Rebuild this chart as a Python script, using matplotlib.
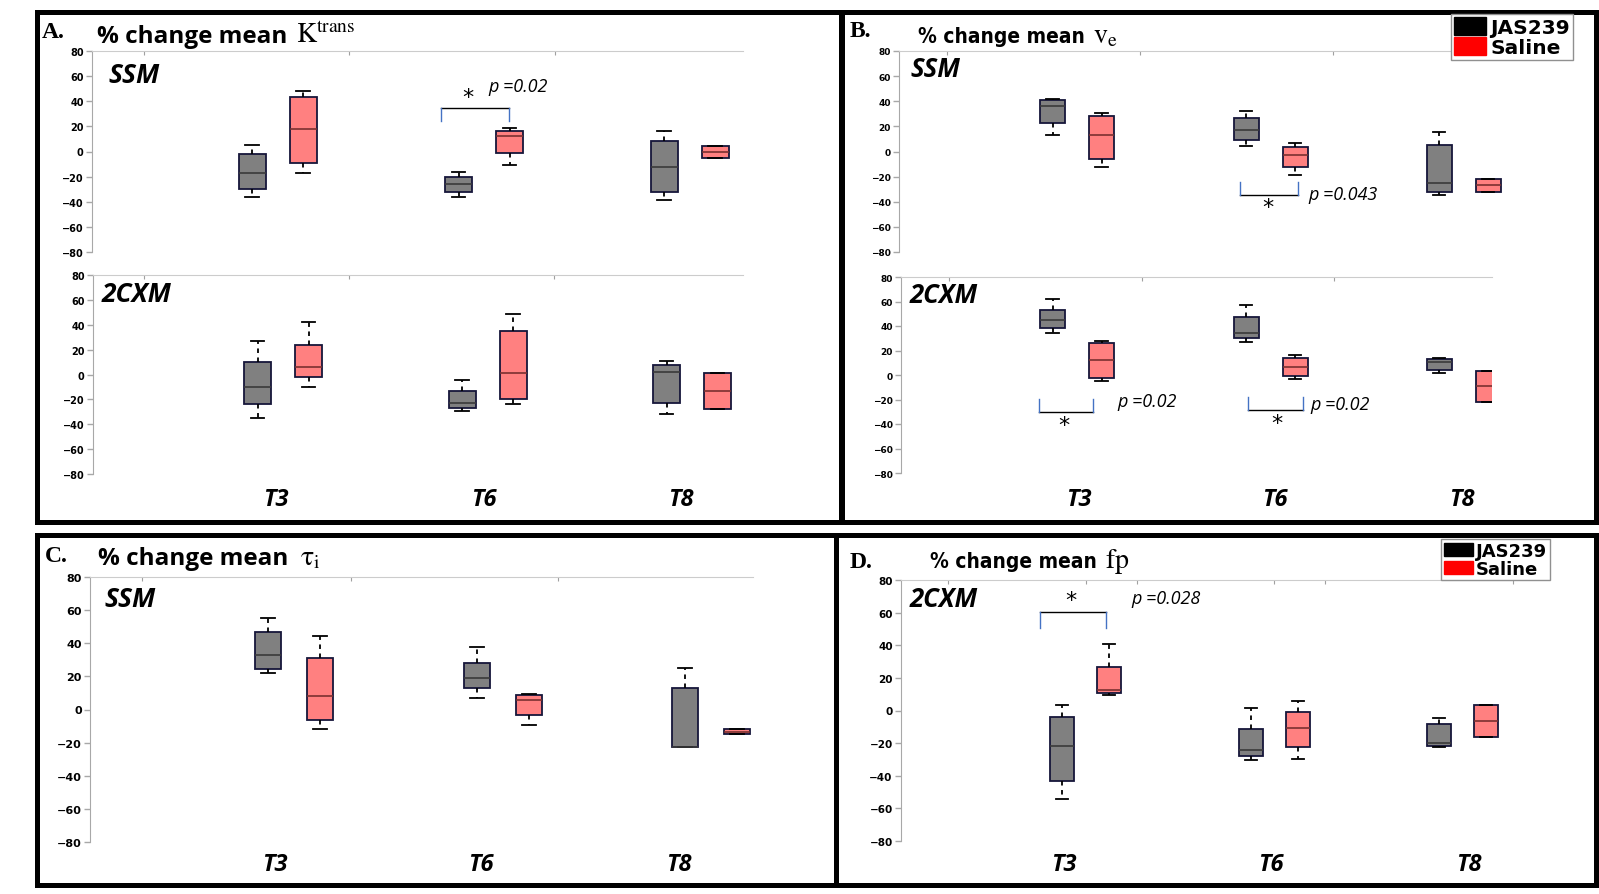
import matplotlib
matplotlib.use('Agg')
import matplotlib.pyplot as plt
from matplotlib.patches import Rectangle, Patch

plt.rcParams['mathtext.fontset'] = 'stix'

W, H = 1599, 895
groups = ['T3', 'T6', 'T8']

# box statistics: whisker low, q1, median, q3, whisker high
# panel A, SSM
a_ssm_jas = dict(lo=[-36, -36, -39], q1=[-30, -32, -32.5], med=[-17, -26, -12.5], q3=[-2, -20.5, 8.5], hi=[5, -16, 16])
a_ssm_sal = dict(lo=[-17, -11, -5.5], q1=[-9, -1, -5.5], med=[18, 12, -0.5], q3=[43, 16, 4], hi=[48, 19, 4])
# panel A, 2CXM
a_cxm_jas = dict(lo=[-35, -29.5, -32], q1=[-24, -27, -23], med=[-10, -23, 2], q3=[10, -13.5, 8], hi=[27, -4.5, 10.5])
a_cxm_sal = dict(lo=[-10, -23.5, -27.5], q1=[-2, -20, -27.5], med=[6, 1.5, -13], q3=[24, 35, 1], hi=[42.5, 49, 1])
# panel B, SSM
b_ssm_jas = dict(lo=[13, 4.5, -35], q1=[23, 9, -32.5], med=[36, 17, -25], q3=[41, 27, 5], hi=[41.5, 32, 15.5])
b_ssm_sal = dict(lo=[-12, -18.5, -32.5], q1=[-6, -12.5, -32.5], med=[13.5, -3, -26.5], q3=[28.5, 3.5, -22], hi=[30.5, 7, -22])
# panel B, 2CXM
b_cxm_jas = dict(lo=[34.5, 27, 1.5], q1=[38.5, 30, 4], med=[44.5, 34.5, 10.5], q3=[53, 47.5, 13], hi=[62, 57, 14])
b_cxm_sal = dict(lo=[-5, -3, -22], q1=[-2.5, -1, -22], med=[12.5, 6.5, -9], q3=[26.5, 14, 3.5], hi=[28, 16, 3.5])
# panel C, SSM
c_ssm_jas = dict(lo=[22, 7, -22.5], q1=[24.5, 13, -22.5], med=[33, 19, -22.5], q3=[47, 28, 13], hi=[55, 37.5, 25])
c_ssm_sal = dict(lo=[-12, -9.5, -15], q1=[-6.5, -3.5, -15], med=[8, 5.5, -13.5], q3=[31, 9, -11.5], hi=[44.5, 9.5, -11.5])
# panel D, 2CXM
d_cxm_jas = dict(lo=[-54, -30.5, -22.5], q1=[-43.5, -28, -22], med=[-22, -24, -20], q3=[-4, -11.5, -8.5], hi=[3.5, 1.5, -4.5])
d_cxm_sal = dict(lo=[9.5, -30, -16], q1=[11, -22.5, -16], med=[12.5, -11, -6.5], q3=[26.5, -0.7, 3.5], hi=[40.5, 6, 3.5])

legend_labels = ['JAS239', 'Saline']
p_texts = ['p =0.02', 'p =0.043', 'p =0.02', 'p =0.02', 'p =0.028']

GRAY = '#808080'
PINK = '#ff8080'
EDGE = '#16163a'

fig = plt.figure(figsize=(W / 100, H / 100), dpi=100)


def fx(px):
    return px / W


def fy(py):
    return 1 - py / H


def add_ax(x0, y0, x1, y1, top_ticks, lsize):
    # x data unit = figure pixel, y = % change
    ax = fig.add_axes([x0 / W, 1 - y1 / H, (x1 - x0) / W, (y1 - y0) / H])
    ax.patch.set_alpha(0)
    ax.set_xlim(x0, x1)
    ax.set_ylim(-80, 80)
    ax.set_yticks(range(-80, 81, 20))
    ax.spines['right'].set_visible(False)
    ax.spines['bottom'].set_visible(False)
    ax.spines['left'].set_color('#a8a8a8')
    ax.spines['top'].set_color('#cccccc')
    ax.tick_params(axis='y', direction='out', length=4, width=1, color='#a8a8a8',
                   labelsize=lsize, pad=2)
    for lab in ax.get_yticklabels():
        lab.set_fontweight('bold')
        lab.set_family('DejaVu Sans')
    ax.set_xticks(top_ticks)
    ax.tick_params(axis='x', top=True, bottom=False, direction='in', length=3,
                   color='#a0a0a0', labeltop=False, labelbottom=False)
    return ax


def draw_boxes(ax, centres, off, bw, jas, sal):
    for st, sign, face, medc in [(jas, -1, GRAY, '#3a3a3a'), (sal, 1, PINK, '#7a3030')]:
        stats = [dict(whislo=st['lo'][i], q1=st['q1'][i], med=st['med'][i],
                      q3=st['q3'][i], whishi=st['hi'][i]) for i in range(len(groups))]
        pos = [c + sign * off for c in centres]
        ax.bxp(stats, positions=pos, widths=bw, showfliers=False, patch_artist=True,
               manage_ticks=False, capwidths=bw * 0.5,
               boxprops=dict(facecolor=face, edgecolor=EDGE, linewidth=1.3),
               medianprops=dict(color=medc, linewidth=1.2),
               whiskerprops=dict(color='black', linewidth=1.3, linestyle=(0, (2.5, 2.5))),
               capprops=dict(color='black', linewidth=1.3))


def bracket(ax, x0, x1, ybar, yend, star, ptxt, pxy):
    ax.plot([x0, x1], [ybar, ybar], color='black', lw=1)
    ax.plot([x0, x0], [ybar, yend], color='#4472c4', lw=1)
    ax.plot([x1, x1], [ybar, yend], color='#4472c4', lw=1)
    ax.text(star[0], star[1], '*', ha='center', va='center', fontsize=16,
            family='DejaVu Sans')
    ax.text(pxy[0], pxy[1], ptxt, ha='left', va='center', fontsize=13,
            family='Open Sans', style='italic')


# panel borders
for x0, y0, x1, y1 in [(36.5, 12.5, 841.5, 522.5), (841.5, 12.5, 1595.5, 522.5),
                       (36.5, 536, 836, 886), (836, 536, 1595.5, 886)]:
    fig.patches.append(Rectangle((fx(x0), fy(y1)), (x1 - x0) / W, (y1 - y0) / H,
                                 transform=fig.transFigure, fill=False,
                                 lw=3.6, ec='black', zorder=1))

# panel A
ax = add_ax(92, 52, 743, 253, [144, 349, 555], 7)
draw_boxes(ax, [277.5, 484, 689.5], 25.5, 27, a_ssm_jas, a_ssm_sal)
bracket(ax, 441, 509, 35, 24.5, (468, 43), p_texts[0], (488, 52))
ax = add_ax(93, 276, 743, 475, [144, 349, 554], 7)
draw_boxes(ax, [283, 487.5, 692], 25.5, 27, a_cxm_jas, a_cxm_sal)

# panel B
ax = add_ax(899, 52, 1507, 253, [947, 1140, 1333], 6.5)
draw_boxes(ax, [1077, 1270.5, 1463.5], 24.5, 25, b_ssm_jas, b_ssm_sal)
bracket(ax, 1240, 1298, -35, -24.5, (1268, -44), p_texts[1], (1308, -34))
ax = add_ax(901, 278, 1492, 474, [949, 1141.5, 1334], 6.5)
draw_boxes(ax, [1077, 1270.5, 1463.5], 24.5, 25, b_cxm_jas, b_cxm_sal)
bracket(ax, 1039, 1093, -30.2, -19.3, (1064, -41), p_texts[2], (1117, -21.5))
bracket(ax, 1248, 1303, -28.8, -18, (1277, -39), p_texts[3], (1310, -24))

# panel C
ax = add_ax(90, 578, 753, 843, [142, 351, 558], 8)
draw_boxes(ax, [294, 503, 711], 26, 26.5, c_ssm_jas, c_ssm_sal)

# panel D
ax = add_ax(901, 581, 1513, 842, [948, 1085.5, 1137, 1274, 1325, 1513], 7.5)
draw_boxes(ax, [1085.5, 1274, 1462], 23.5, 24, d_cxm_jas, d_cxm_sal)
bracket(ax, 1040, 1106, 60.6, 50.8, (1071, 68), p_texts[4], (1131, 68.8))

# panel letters and titles
serif = dict(family='Liberation Serif', weight='bold', fontsize=17, va='baseline')
wide = dict(family='Open Sans', weight='bold', fontsize=17.5, va='baseline')
narrow = dict(family='DejaVu Sans', stretch='condensed', weight='bold', fontsize=15, va='baseline')
math = dict(fontsize=20, va='baseline')
fig.text(fx(42), fy(38), 'A.', **serif)
fig.text(fx(97), fy(43), '% change mean', **wide)
fig.text(fx(296), fy(43), r'$\mathrm{K}^{\mathrm{trans}}$', **math)
fig.text(fx(850), fy(37), 'B.', **serif)
fig.text(fx(918), fy(43), '% change mean', **narrow)
fig.text(fx(1093), fy(43), r'$\mathrm{v}_{\mathrm{e}}$', **math)
fig.text(fx(45), fy(562), 'C.', **serif)
fig.text(fx(98), fy(565), '% change mean', **wide)
fig.text(fx(300), fy(565), r'$\mathrm{\tau}_{\mathrm{i}}$', **math)
fig.text(fx(850), fy(568), 'D.', **serif)
fig.text(fx(930), fy(568), '% change mean', **narrow)
fig.text(fx(1105), fy(568), r'$\mathrm{fp}$', **math)

# model labels
mwide = dict(family='Open Sans', weight='bold', style='italic', fontsize=19, va='baseline')
mnarrow = dict(family='Open Sans', weight='bold', style='italic', fontsize=18.5, va='baseline')
fig.text(fx(108), fy(83), 'SSM', **mwide)
fig.text(fx(102), fy(302), '2CXM', **mwide)
fig.text(fx(910), fy(77), 'SSM', **mnarrow)
fig.text(fx(910), fy(303), '2CXM', **mnarrow)
fig.text(fx(104), fy(607), 'SSM', **mwide)
fig.text(fx(910), fy(607), '2CXM', **mnarrow)

# time point labels
tl = dict(family='Open Sans', weight='bold', style='italic', fontsize=17, ha='center', va='center')
for xs, y in [([276, 484, 681], 500), ([1079, 1275, 1462], 500),
              ([275, 481, 679], 865), ([1064, 1271, 1469], 865)]:
    for x, g in zip(xs, groups):
        fig.text(fx(x), fy(y), g, **tl)

# legends
handles = [Patch(facecolor='black', edgecolor='black'), Patch(facecolor='#ff0000', edgecolor='#ff0000')]
for (lx, ly), size, hh in [((1451, 15), 14.5, 1.0), ((1441, 540), 13, 0.7)]:
    leg = fig.legend(handles, legend_labels, loc='upper left', bbox_to_anchor=(fx(lx), fy(ly)),
                     prop=dict(family='DejaVu Sans', weight='bold', size=size),
                     frameon=True, fancybox=False, edgecolor='#909090', framealpha=1,
                     handlelength=1.6, handleheight=hh, handletextpad=0.2,
                     labelspacing=0.0, borderpad=0.15, borderaxespad=0)
    leg.get_frame().set_linewidth(1)

fig.savefig('out.png', dpi=100)
